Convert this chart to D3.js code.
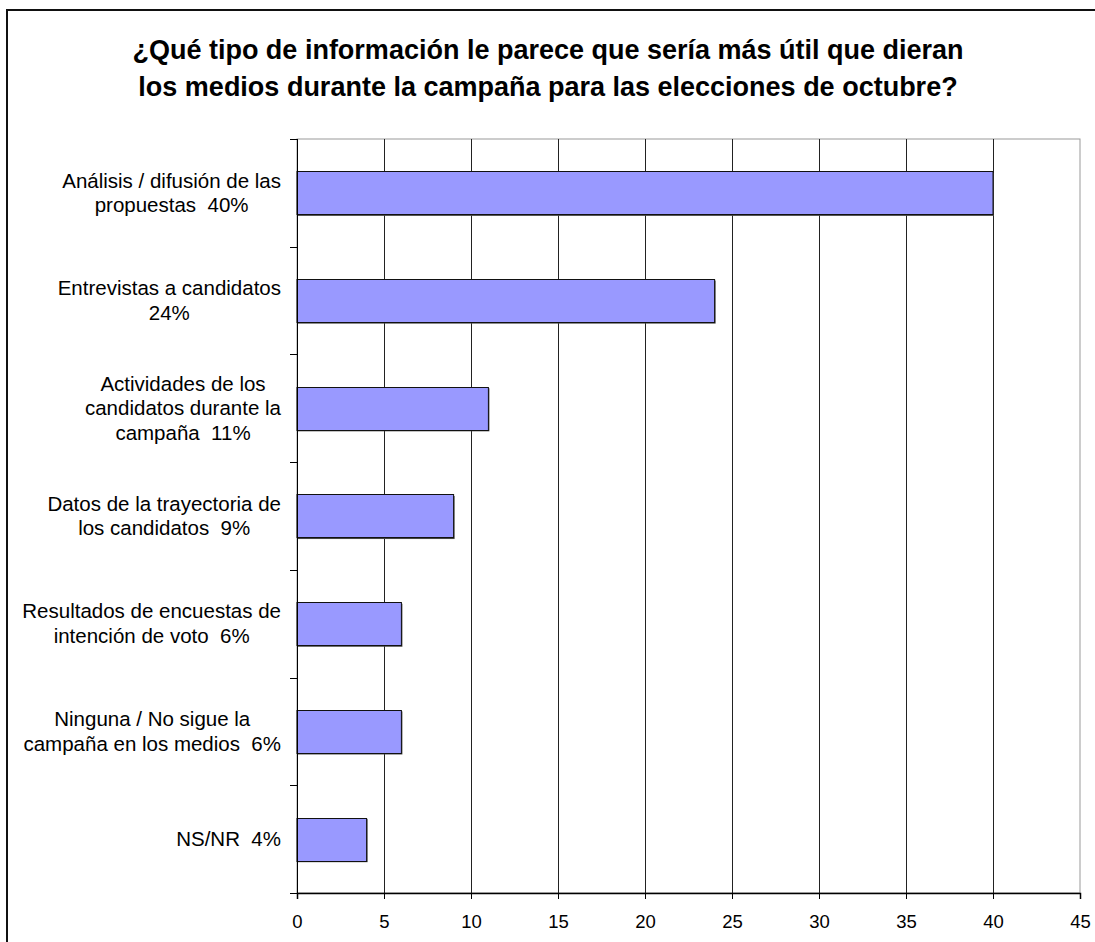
<!DOCTYPE html>
<html>
<head>
<meta charset="utf-8">
<script src="https://cdnjs.cloudflare.com/ajax/libs/d3/7.8.5/d3.min.js"></script>
<style>
    body { margin: 0; background: #fff; }
    text { font-family: Arial, "Liberation Sans", sans-serif; fill: #000; }
</style>
</head>
<body>
<div id="chartCont"></div>
<script>
svgSize = {
    width: 1095,
    height: 942,
    margin: {top: 139, right: 15, bottom: 49, left: 297}
};

var titleLines = [
    '¿Qué tipo de información le parece que sería más útil que dieran',
    'los medios durante la campaña para las elecciones de octubre?'
];

// each category label is already wrapped the way the original shows it
var categories = [
    ['Análisis / difusión de las', 'propuestas  40%'],
    ['Entrevistas a candidatos', '24%'],
    ['Actividades de los', 'candidatos durante la', 'campaña  11%'],
    ['Datos de la trayectoria de', 'los candidatos  9%'],
    ['Resultados de encuestas de', 'intención de voto  6%'],
    ['Ninguna / No sigue la', 'campaña en los medios  6%'],
    ['NS/NR  4%']
];
var values = [40, 24, 11, 9, 6, 6, 4];
var xTicks = [0, 5, 10, 15, 20, 25, 30, 35, 40, 45];

var barColor = '#9999ff';
var x, y, svg, g;

function generateChart(selector) {
    var height = svgSize.height - svgSize.margin.top - svgSize.margin.bottom;
    var width = 1080 - svgSize.margin.left;

    svg = d3.select(selector)
        .append('svg')
        .attr('width', svgSize.width)
        .attr('height', svgSize.height);

    // outer frame of the chart object (runs off the right / bottom)
    svg.append('rect')
        .attr('x', 7).attr('y', 10)
        .attr('width', 1200).attr('height', 1000)
        .attr('fill', 'none')
        .attr('stroke', '#111')
        .attr('stroke-width', 2);

    svg.append('g').selectAll('text')
        .data(titleLines)
        .enter().append('text')
        .attr('x', 548)
        .attr('y', function (d, i) { return 59 + i * 37; })
        .attr('text-anchor', 'middle')
        .style('font-weight', 'bold')
        .style('font-size', '27px')
        .text(function (d) { return d; });

    g = svg.append('g')
        .attr('transform', 'translate(' + svgSize.margin.left + ',' + svgSize.margin.top + ')');

    x = d3.scaleLinear().domain([0, 45]).range([0, width]);
    y = d3.scaleBand()
        .domain(d3.range(categories.length))
        .range([0, height])
        .paddingInner(0.6)
        .paddingOuter(0.3);

    // plot area border (grey top / right)
    g.append('rect')
        .attr('x', 0).attr('y', 0)
        .attr('width', width).attr('height', height)
        .attr('fill', 'none')
        .attr('stroke', '#999')
        .attr('stroke-width', 1);

    // vertical grid
    g.append('g').selectAll('line')
        .data(xTicks.slice(1, -1))
        .enter().append('line')
        .attr('x1', function (d) { return Math.round(x(d)) + 0.5; })
        .attr('x2', function (d) { return Math.round(x(d)) + 0.5; })
        .attr('y1', 0)
        .attr('y2', height)
        .attr('stroke', '#222')
        .attr('stroke-width', 1);

    // bars with a small dark shadow like the original
    var bars = g.append('g');
    bars.selectAll('rect.shadow')
        .data(values)
        .enter().append('rect')
        .attr('class', 'shadow')
        .attr('x', x(0) + 1)
        .attr('y', function (d, i) { return y(i) + 1.5; })
        .attr('width', function (d) { return x(d) - x(0); })
        .attr('height', y.bandwidth())
        .attr('fill', '#444');
    bars.selectAll('rect.bar')
        .data(values)
        .enter().append('rect')
        .attr('class', 'bar')
        .attr('x', x(0))
        .attr('y', function (d, i) { return Math.round(y(i)) + 0.5; })
        .attr('width', function (d) { return x(d) - x(0); })
        .attr('height', Math.round(y.bandwidth()))
        .attr('fill', barColor)
        .attr('stroke', '#111')
        .attr('stroke-width', 1);

    // x axis
    var xAxis = g.append('g')
        .attr('transform', 'translate(0,' + height + ')')
        .call(d3.axisBottom(x).tickValues(xTicks).tickSize(6).tickPadding(16));
    xAxis.select('.domain').attr('stroke', '#000').attr('stroke-width', 1.5);
    xAxis.selectAll('.tick line').attr('stroke', '#000');
    xAxis.selectAll('text')
        .style('font-size', '18.5px')
        .style('font-family', 'Arial, "Liberation Sans", sans-serif');

    // y axis: line plus ticks at band boundaries
    var yTicks = d3.range(categories.length + 1).map(function (i) { return i * height / categories.length; });
    g.append('line')
        .attr('x1', 0.5).attr('x2', 0.5)
        .attr('y1', 0).attr('y2', height)
        .attr('stroke', '#000');
    g.append('g').selectAll('line')
        .data(yTicks)
        .enter().append('line')
        .attr('x1', -7).attr('x2', 0)
        .attr('y1', function (d) { return Math.round(d) + 0.5; })
        .attr('y2', function (d) { return Math.round(d) + 0.5; })
        .attr('stroke', '#000');

    drawLabels();
}

function drawLabels() {
    var lineH = 24.5;
    var labels = g.append('g').attr('id', 'labels');
    categories.forEach(function (lines, i) {
        var cy = y(i) + y.bandwidth() / 2;
        var lg = labels.append('g');
        var t = lg.selectAll('text')
            .data(lines)
            .enter().append('text')
            .attr('text-anchor', 'middle')
            .style('font-size', '20.5px')
            .style('white-space', 'pre')
            .attr('y', function (d, k) { return cy + (k - (lines.length - 1) / 2) * lineH + 7; })
            .text(function (d) { return d; });
        var maxW = 0;
        t.each(function () { maxW = Math.max(maxW, this.getComputedTextLength()); });
        t.attr('x', -16 - maxW / 2);
    });
}

generateChart('#chartCont');
</script>
</body>
</html>
